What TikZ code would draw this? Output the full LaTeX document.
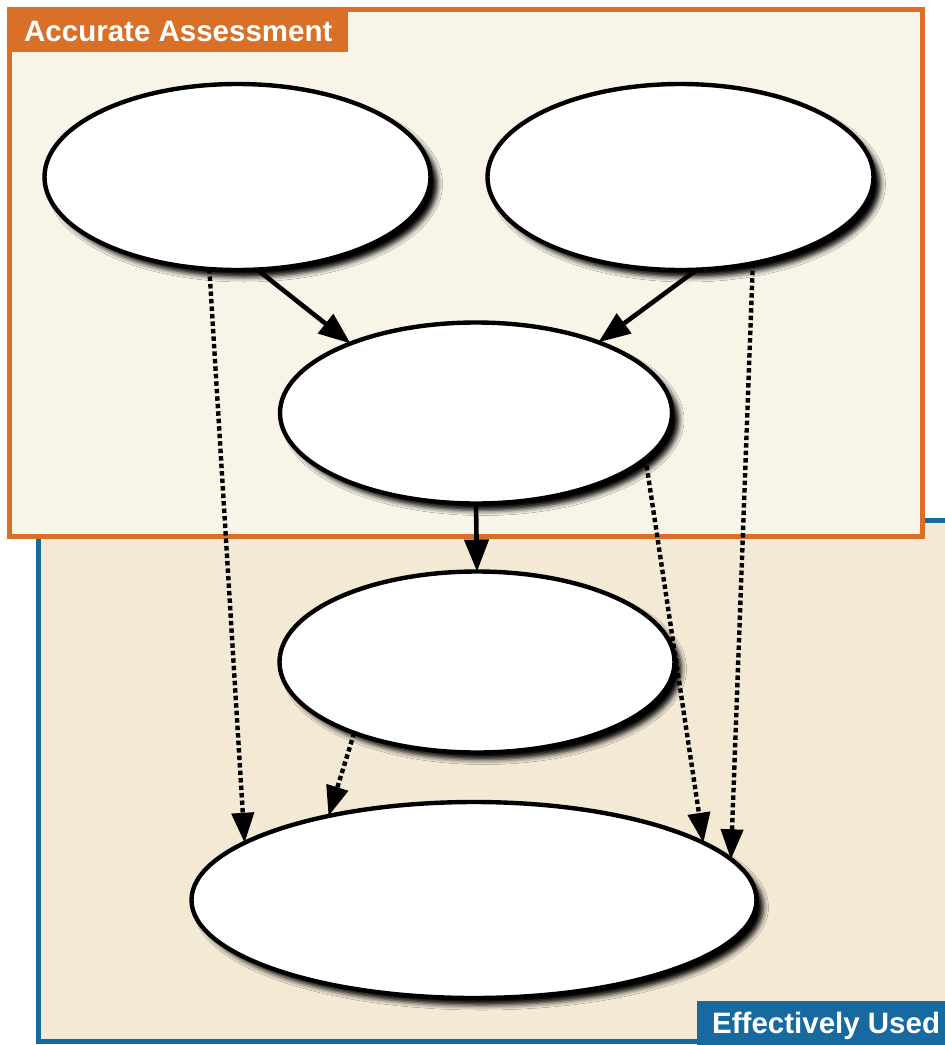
\documentclass[tikz,border=0pt]{standalone}
\usepackage{fontspec}
\setmainfont{Liberation Sans}
\usetikzlibrary{shapes.geometric,arrows.meta,shadows.blur}

\definecolor{frameorange}{RGB}{216,112,40}
\definecolor{frameblue}{RGB}{22,106,160}
\definecolor{paleorange}{RGB}{249,244,232}
\definecolor{paleblue}{RGB}{243,233,213}

\tikzset{
  bubble/.style={ellipse, draw=black, line width=4.4pt, fill=white,
    inner sep=0pt, outer sep=0pt,
    blur shadow={shadow xshift=7pt, shadow yshift=-7pt,
                 shadow blur radius=5pt, shadow opacity=100}},
  link/.style={line width=4.6pt, -{Triangle[length=32pt,width=24pt]}},
  weaklink/.style={line width=4.4pt, dash pattern=on 4.5pt off 3pt,
    -{Triangle[length=30pt,width=22pt]}},
  tabtext/.style={text=white, font=\bfseries\fontsize{29.5}{32}\selectfont,
    inner sep=0pt, anchor=base west}
}

\begin{document}
\begin{tikzpicture}[x=1pt,y=-1pt]
  \useasboundingbox (0,0) rectangle (945,1045);
  \fill[white] (0,0) rectangle (945,1045);
  \clip (0,0) rectangle (945,1045);

  % lower panel
  \draw[frameblue, line width=5pt, fill=paleblue] (38.5,520) rectangle (980,1041);
  \fill[frameblue] (697,1001) rectangle (960,1060);
  \node[tabtext] (usedlabel) at (712,1033) {Effectively Used};

  % upper panel
  \draw[frameorange, line width=5.5pt, fill=paleorange] (9.5,9.5) rectangle (922.5,536.5);
  \fill[frameorange] (7,7) rectangle (348,52);
  \node[tabtext] (assesslabel) at (24,41) {Accurate Assessment};

  % ellipses
  \node[bubble, minimum width=386pt, minimum height=186pt] (e1) at (237.5,177) {};
  \node[bubble, minimum width=386pt, minimum height=186pt] (e2) at (680.5,177) {};
  \node[bubble, minimum width=392pt, minimum height=181pt] (e3) at (476,413) {};
  \node[bubble, minimum width=395pt, minimum height=181pt] (e4) at (477,662) {};
  \node[bubble, minimum width=565pt, minimum height=196pt] (e5) at (474,900) {};

  % solid connectors
  \draw[link] (e1.282) -- (e3.151);
  \draw[link] (e2.280) -- (e3.30);
  \draw[link] (e3.south) -- (e4.north);

  % dotted connectors
  \draw[weaklink] (e1.253.5) -- (e5.166.7);
  \draw[weaklink] (e2.310) -- (e5.9.5);
  \draw[weaklink] (e3.345) -- (e5.14.4);
  \draw[weaklink] (e4.210.7) -- (e5.150);
\end{tikzpicture}
\end{document}
